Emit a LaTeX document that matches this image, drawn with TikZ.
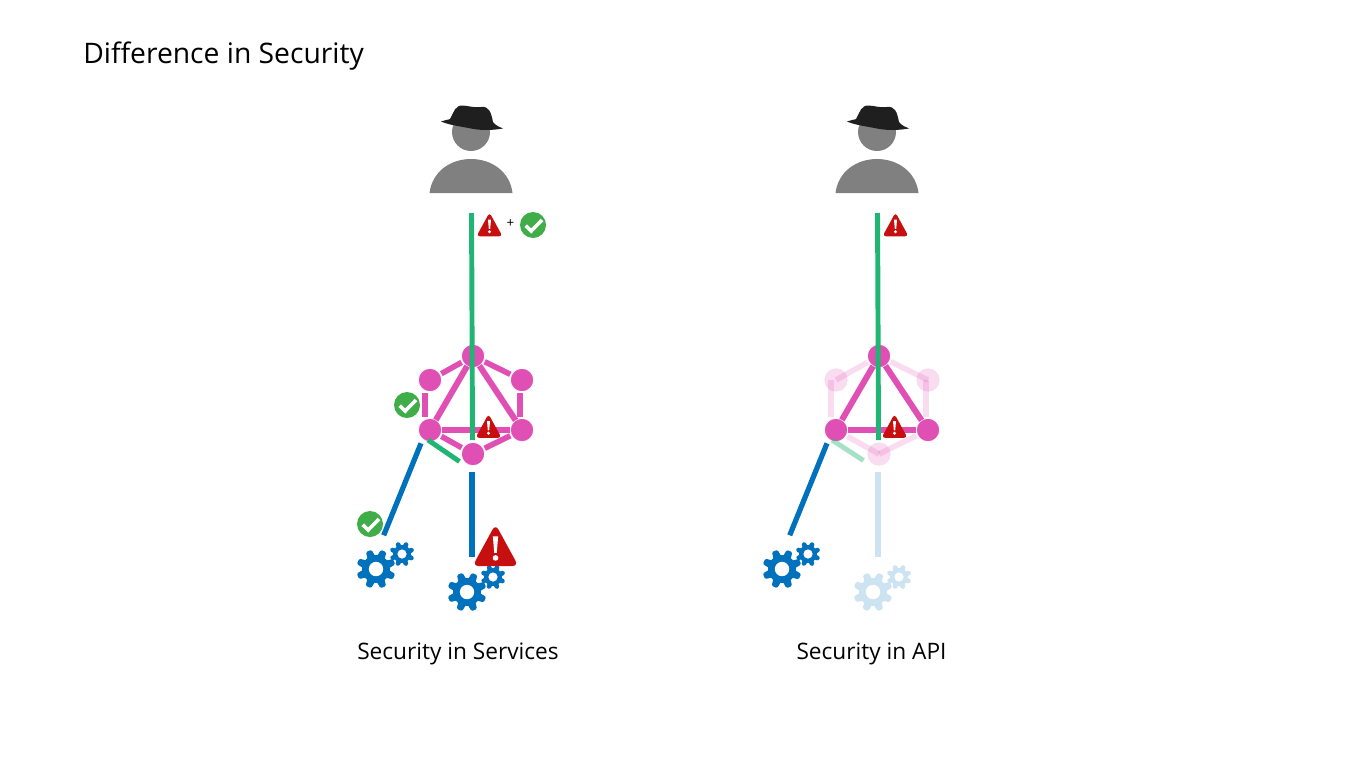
\documentclass[tikz,border=0pt]{standalone}
\usepackage{fontspec}
\setmainfont{Open Sans}
\usepackage{xcolor}
\definecolor{qlpink}{RGB}{224,80,180}
\definecolor{qlgreen}{RGB}{33,181,115}
\definecolor{svcblue}{RGB}{0,113,188}
\definecolor{alertred}{RGB}{200,15,15}
\definecolor{okgreen}{RGB}{63,174,73}
\definecolor{hatgrey}{RGB}{128,128,128}
\usetikzlibrary{calc}
\tikzset{
  graphnode/.style={circle,fill=qlpink,draw=white,line width=.6pt,minimum size=17.5pt,inner sep=0pt,outer sep=0pt},
  fadednode/.style={circle,fill=qlpink,fill opacity=.2,minimum size=17.5pt,inner sep=0pt,outer sep=0pt},
  triedge/.style={qlpink,line width=4.5pt},
  hexedge/.style={qlpink,line width=4.2pt,shorten <=1pt,shorten >=1pt},
  fadededge/.style={qlpink,opacity=.2,line width=4.2pt},
  greenline/.style={qlgreen,line width=3.7pt},
  blueline/.style={svcblue,line width=3.9pt},
  pics/warnsign/.style={code={
    \fill[alertred,rounded corners=#1*2.6pt] ({-13*#1},{10.8*#1}) -- (0,{-13*#1}) -- ({13*#1},{10.8*#1}) -- cycle;
    \fill[white] ({-1.5*#1},{-6*#1}) -- ({1.5*#1},{-6*#1}) -- ({.7*#1},{3.4*#1}) -- ({-.7*#1},{3.4*#1}) -- cycle;
    \fill[white] (0,{6.2*#1}) circle [radius={1.6*#1}];
  }},
  pics/okbadge/.style={code={
    \fill[okgreen] (0,0) circle [radius=13];
    \draw[white,line width=2.7pt,line join=miter] (-7.3,.7) -- (-1.8,6) -- (9,-5);
  }},
  pics/gearwheel/.style={code={
    \foreach \ang in {0,45,...,315}
      \fill[#1,rotate=\ang+22,rounded corners=1pt] (-4.4,-10) -- (-3,-19.5) -- (3,-19.5) -- (4.4,-10) -- cycle;
    \fill[#1] (0,0) circle [radius=14];
    \fill[white] (0,0) circle [radius=7.2];
  }},
  pics/gearpair/.style={code={
    \pic[scale=.64] at (26,-15) {gearwheel=#1};
    \fill[white] (0,0) circle [radius=18];
    \pic at (0,0) {gearwheel=#1};
  }},
  pics/hacker/.style={code={
    \fill[hatgrey] (0,0) circle [radius=19];
    \fill[hatgrey] (-41.5,61) .. controls (-39,40) and (-21,27) .. (0,27) .. controls (21,27) and (39,40) .. (41.5,61) -- cycle;
    \fill[black!88] (-30,-10.5) .. controls (-27,-12) and (-23,-12) .. (-21,-13) .. controls (-17,-20) and (-16,-27) .. (-8,-26.5)
      .. controls (-2,-26) and (4,-24) .. (10,-25) .. controls (18,-26) and (20,-20) .. (22,-10) .. controls (25,-6) and (29,-5) .. (32,-3.5)
      .. controls (20,-1.5) and (10,-1.5) .. (0,-3.5) .. controls (-10,-5.5) and (-22,-7) .. (-30,-10.5) -- cycle;
  }}
}
\begin{document}
\begin{tikzpicture}[x=.75pt,y=-.75pt]
\useasboundingbox (0,0) rectangle (1366,768);

% Texts
\node[anchor=base west,inner sep=0pt,font=\fontsize{21.2}{25}\selectfont] (title) at (83,63) {Difference in Security};
\node[anchor=base,inner sep=0pt,font=\fontsize{17}{20}\selectfont] (leftlabel) at (458,659) {Security in Services};
\node[anchor=base,inner sep=0pt,font=\fontsize{17}{20}\selectfont] (rightlabel) at (871.5,659) {Security in API};

% Attackers
\pic at (471,132) {hacker};
\pic at (877,132) {hacker};

% Graph in services
\node[graphnode] (a-top) at (473,356) {};
\node[graphnode] (a-ul) at (430,380) {};
\node[graphnode] (a-ur) at (522,380) {};
\node[graphnode] (a-ll) at (430,430) {};
\node[graphnode] (a-lr) at (522,430) {};
\node[graphnode] (a-bot) at (473,454) {};
\draw[hexedge] (a-top) -- (a-ul);
\draw[hexedge] (a-top) -- (a-ur);
\draw[hexedge] ([xshift=-3.75pt]a-ul.south) -- ([xshift=-3.75pt]a-ll.north);
\draw[hexedge] ([xshift=-1.5pt]a-ur.south) -- ([xshift=-1.5pt]a-lr.north);
\draw[hexedge] (a-ll) -- (a-bot);
\draw[hexedge] (a-lr) -- (a-bot);
\draw[triedge] (a-top) -- (a-ll);
\draw[triedge] (a-top) -- (a-lr);
\draw[triedge] (a-ll) -- (a-lr);

% Graph in API
\node[fadednode] (b-ul) at (836,380) {};
\node[fadednode] (b-ur) at (928,380) {};
\node[fadednode] (b-bot) at (879,454) {};
\node[graphnode] (b-top) at (879,356) {};
\node[graphnode] (b-ll) at (836,430) {};
\node[graphnode] (b-lr) at (928,430) {};
\draw[fadededge,shorten <=1pt] (b-top) -- (b-ul.center);
\draw[fadededge,shorten <=1pt] (b-top) -- (b-ur.center);
\draw[fadededge,shorten >=1pt] ([xshift=-3.75pt]b-ul.center) -- ([xshift=-3.75pt]b-ll.north);
\draw[fadededge,shorten >=1pt] ([xshift=-1.5pt]b-ur.center) -- ([xshift=-1.5pt]b-lr.north);
\draw[fadededge,shorten <=1pt] (b-ll) -- (b-bot.center);
\draw[fadededge,shorten <=1pt] (b-lr) -- (b-bot.center);
\draw[triedge] (b-top) -- (b-ll);
\draw[triedge] (b-top) -- (b-lr);
\draw[triedge] (b-ll) -- (b-lr);

% Line ends
\coordinate (a-in) at (471.5,213);
\coordinate (a-knee) at (471.8,272);
\coordinate (a-end) at (472.5,440);
\coordinate (a-s1) at (428,440);
\coordinate (a-s2) at (459.5,461.5);
\coordinate (a-c1) at (421,443.3);
\coordinate (a-c2) at (383.7,535.3);
\coordinate (a-c3) at (472,472);
\coordinate (a-c4) at (472,557);
\coordinate (b-in) at (877.5,213);
\coordinate (b-knee) at (877.8,272);
\coordinate (b-end) at (878.5,440);
\coordinate (b-s1) at (832,440);
\coordinate (b-s2) at (863.5,460.5);
\coordinate (b-c1) at (827,443.3);
\coordinate (b-c2) at (789.7,535.3);
\coordinate (b-c3) at (878,472);
\coordinate (b-c4) at (878,557);

% Requests
\draw[greenline] (a-in) -- (a-knee) -- (a-end);
\draw[greenline] (a-s1) -- (a-s2);
\draw[greenline] (b-in) -- (b-knee) -- (b-end);
\draw[greenline,opacity=.4] (b-s1) -- (b-s2);

% Services
\draw[blueline] (a-c1) -- (a-c2);
\draw[blueline] (a-c3) -- (a-c4);
\draw[blueline] (b-c1) -- (b-c2);
\draw[blueline,opacity=.2] (b-c3) -- (b-c4);
\pic at (376,569) {gearpair=svcblue};
\pic at (467,592) {gearpair=svcblue};
\pic at (782,569) {gearpair=svcblue};
\pic at (873,592) {gearpair={svcblue!20}};

% Checks
\pic at (489.5,225.5) {warnsign=1};
\node[inner sep=0pt,font=\fontsize{10}{10}\selectfont] (plus) at (510.5,223.5) {+};
\pic at (533,225) {okbadge};
\pic at (895.5,225.5) {warnsign=1};
\pic at (488.5,427) {warnsign=1};
\pic at (894.5,427) {warnsign=1};
\pic at (407,405) {okbadge};
\pic at (370,524) {okbadge};
\pic at (495.5,547) {warnsign=1.76};
\end{tikzpicture}
\end{document}
